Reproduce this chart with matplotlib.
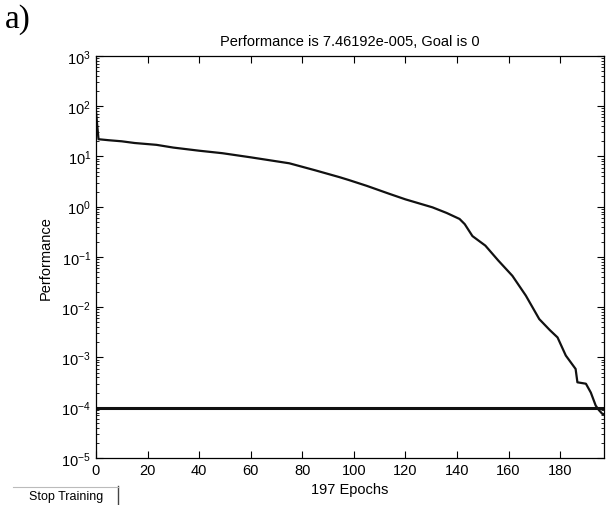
import matplotlib.pyplot as plt
from matplotlib.lines import Line2D
import numpy as np

plt.rcParams['font.family'] = ['Liberation Sans', 'DejaVu Sans']
plt.rcParams['mathtext.fontset'] = 'custom'
plt.rcParams['mathtext.rm'] = 'Liberation Sans'
plt.rcParams['mathtext.it'] = 'Liberation Sans'

# training performance
epochs = [0, 1, 5, 10, 15, 23.5, 30, 40, 49, 60, 75, 85, 94.5, 98, 105, 113.8,
          120, 130.5, 136, 141, 143, 146, 151, 156, 161.5, 166.7, 171.9, 176,
          179, 182.2, 186, 186.7, 190, 191.9, 193.8, 195, 196.4, 197]
perf = [80, 22, 21, 20, 18.5, 17, 15, 13, 11.6, 9.6, 7.3, 5.3, 3.86, 3.4, 2.6, 1.8,
        1.4, 0.97, 0.75, 0.57, 0.45, 0.26, 0.168, 0.085, 0.042, 0.017, 0.0058, 0.0035,
        0.0025, 0.00109, 0.00059, 0.00032, 0.00030, 0.00020, 0.00011, 0.00009,
        0.000075, 0.0000746]
goal = 1e-4
n_epochs = 197

fig = plt.figure(figsize=(6.11, 5.06), dpi=100)
ax = fig.add_axes([0.157, 0.093, 0.8315, 0.7945])

ax.semilogy(epochs, perf, color='#111111', lw=1.6)
ax.axhline(goal, color='#111111', lw=2.2)

ax.set_xlim(0, n_epochs)
ax.set_ylim(1e-5, 1e3)
ax.set_xticks(np.arange(0, 181, 20))
ax.set_yticks([10.0 ** k for k in range(-5, 4)])
ax.tick_params(which='both', direction='in', top=True, right=True, labelsize=10.5)
ax.tick_params(which='major', length=5)
ax.tick_params(which='minor', length=2.5)
for s in ax.spines.values():
    s.set_linewidth(0.9)

ax.set_title('Performance is 7.46192e-005, Goal is 0', fontsize=10.5, pad=8)
ax.set_ylabel('Performance', fontsize=10.5, labelpad=6)
ax.set_xlabel(f'{n_epochs} Epochs', fontsize=10.5, labelpad=4)

fig.text(0.008, 0.992, 'a)', family='Liberation Serif', fontsize=24, va='top', ha='left')
fig.text(0.108, 0.018, 'Stop Training', fontsize=9, va='center', ha='center')
fig.add_artist(Line2D([0.193, 0.193], [0.0, 0.037], color='#444444', lw=1))
fig.add_artist(Line2D([0.021, 0.193], [0.036, 0.036], color='#bbbbbb', lw=0.8))

fig.savefig('out.png', dpi=100)
